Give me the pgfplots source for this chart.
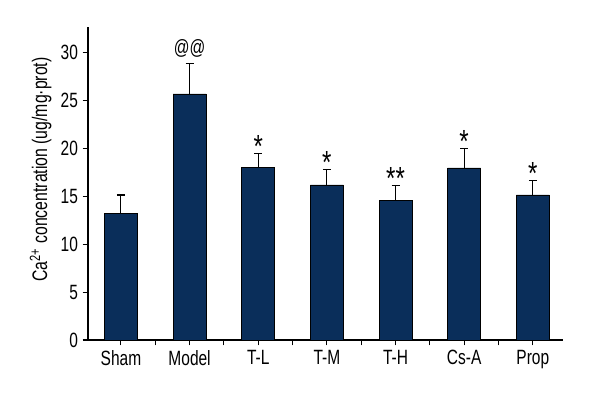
\documentclass[border=0pt]{standalone}
\usepackage{pgfplots}
\pgfplotsset{compat=1.18}
\usepackage{fontspec}
\setmainfont{Liberation Sans}[FakeStretch=0.75]
\definecolor{barblue}{RGB}{10,46,90}

\begin{document}
\begin{tikzpicture}
% 1 px of the reference = 0.75pt
\useasboundingbox (-66pt,-45pt) rectangle (384pt,255pt);

\begin{axis}[
    at={(0,0)}, anchor=south west,
    scale only axis,
    width=356.25pt,
    height=234.75pt,
    xmin=-0.48, xmax=6.44,
    ymin=0, ymax=32.7,
    axis lines*=left,
    axis line style={line width=0.8pt},
    xtick={0,...,6},
    xticklabels={Sham,Model,T-L,T-M,T-H,Cs-A,Prop},
    minor xtick={0.5,1.5,...,5.5},
    ytick={0,5,...,30},
    tick align=outside,
    major tick length=4pt,
    minor tick length=4pt,
    tick style={black, line width=0.8pt},
    ticklabel style={font=\fontsize{15.5}{18}\selectfont},
    /pgf/number format/assume math mode=true,
    ylabel={Ca\textsuperscript{2+} concentration (ug/mg·prot)},
    every axis y label/.append style={font=\fontsize{15.8}{19}\selectfont, at={(ticklabel cs:0.545)}},
    clip=false,
]

% bars with upper error bars
\addplot[ybar, bar width=0.48, fill=barblue, draw=black, line width=0.6pt,
    error bars/.cd, y dir=plus, y explicit,
    error bar style={line width=0.8pt, black},
    error mark options={rotate=90, mark size=3pt, line width=0.8pt, black}]
  table[x=x, y=y, y error=e] {
    x y e
    0 13.24 1.91
    1 25.70 3.20
    2 18.00 1.50
    3 16.20 1.60
    4 14.56 1.54
    5 17.97 2.03
    6 15.15 1.50
};

% significance marks above the error bars
\addplot[draw=none, mark=none,
    nodes near coords, point meta=explicit symbolic,
    every node near coord/.append style={font=\fontsize{24}{26}\selectfont, anchor=base, inner sep=0pt, yshift=-3pt}]
  table[x=x, y=y, meta=lab] {
    x y lab
    2 19.50 *
    3 17.80 *
    4 16.10 **
    5 20.00 *
    6 16.65 *
};
\addplot[draw=none, mark=none,
    nodes near coords, point meta=explicit symbolic,
    every node near coord/.append style={font=\fontsize{15.5}{17}\selectfont, anchor=base, inner sep=0pt, yshift=7pt}]
  table[x=x, y=y, meta=lab] {
    x y lab
    1 28.90 @@
};
\end{axis}
\end{tikzpicture}
\end{document}
